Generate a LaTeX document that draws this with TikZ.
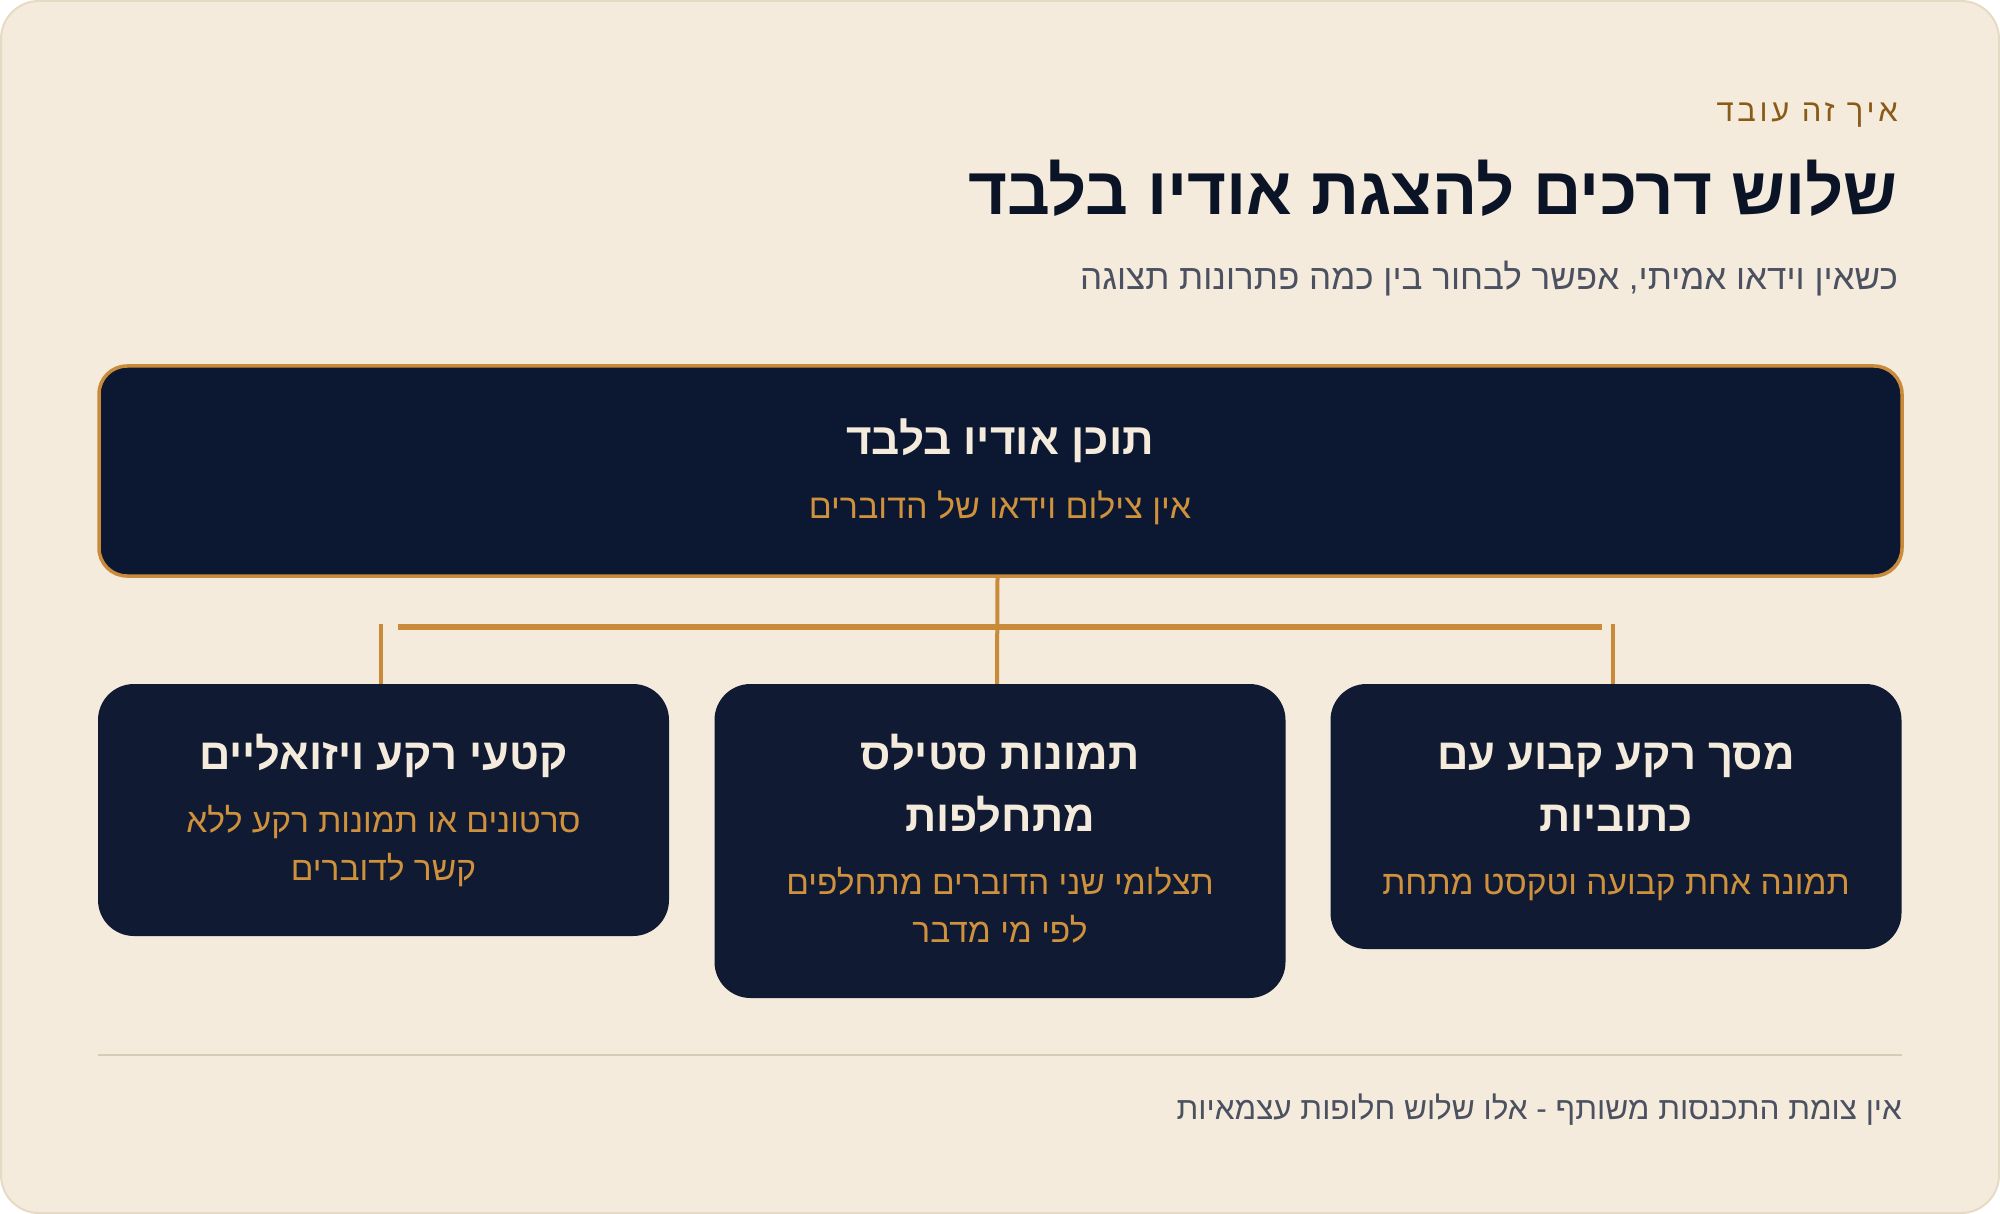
\documentclass[tikz,border=0pt]{standalone}
\usepackage{fontspec}
\setmainfont[Script=Hebrew]{Liberation Sans}
\newfontfamily\heb[Script=Hebrew]{Liberation Sans}
\newfontfamily\hebsp[Script=Hebrew,LetterSpace=12]{Liberation Sans}
\TeXXeTstate=1
\definecolor{bg}{HTML}{F4EBDC}
\definecolor{cardborder}{HTML}{E6DAC4}
\definecolor{navy}{HTML}{0B1426}
\definecolor{topfill}{HTML}{0C1731}
\definecolor{boxfill}{HTML}{101B33}
\definecolor{gold}{HTML}{C98B3A}
\definecolor{goldtext}{HTML}{D0913C}
\definecolor{cream}{HTML}{F4EBDC}
\definecolor{brown}{HTML}{8A5A17}
\definecolor{graytext}{HTML}{4B5161}
\definecolor{divider}{HTML}{D6CBB7}
\tikzset{
  txt/.style={inner sep=0pt, anchor=base},
  topbox/.style={fill=topfill, draw=gold, line width=3.5pt, rounded corners=28pt, inner sep=0pt},
  optbox/.style={fill=boxfill, draw=none, rounded corners=36pt, inner sep=0pt, minimum width=571pt},
  conn/.style={draw=gold, line width=4pt},
  boxtitle/.style={txt, text=cream, font=\heb\bfseries\fontsize{43.5}{50}\selectfont},
  boxsub/.style={txt, text=goldtext, font=\heb\fontsize{33.5}{40}\selectfont},
}
\begin{document}
\begin{tikzpicture}[x=1pt,y=-1pt]
\useasboundingbox (0,0) rectangle (2000,1214);
\fill[bg, draw=cardborder, line width=2pt, rounded corners=38pt] (1,1) rectangle (1999,1213);

% header
\node[txt, anchor=base east, text=brown, font=\hebsp\fontsize{31}{36}\selectfont] (eyebrow) at (1898,122) {\beginR איך זה עובד\endR};
\node[txt, anchor=base east, text=navy, font=\heb\bfseries\fontsize{67}{76}\selectfont] (title) at (1898,215) {\beginR שלוש דרכים להצגת אודיו בלבד\endR};
\node[txt, anchor=base east, text=graytext, font=\heb\fontsize{35}{42}\selectfont] (subtitle) at (1898,290) {\beginR כשאין וידאו אמיתי, אפשר לבחור בין כמה פתרונות תצוגה\endR};

% top box
\node[topbox, minimum width=1803pt, minimum height=210pt] (top) at (1000.5,471) {};
\node[boxtitle, font=\heb\bfseries\fontsize{44}{50}\selectfont] (toptitle) at (1000,454) {\beginR תוכן אודיו בלבד\endR};
\node[boxsub, font=\heb\fontsize{34}{40}\selectfont] (topsub) at (1000,518) {\beginR אין צילום וידאו של הדוברים\endR};

% option boxes
\node[optbox, minimum height=252pt] (left) at (383.5,810) {};
\node[optbox, minimum height=314pt] (mid) at (1000,841) {};
\node[optbox, minimum height=265pt] (right) at (1616,816.5) {};

\node[boxtitle] (lt1) at (383.5,769) {\beginR קטעי רקע ויזואליים\endR};
\node[boxsub] (ls1) at (383.5,832) {\beginR סרטונים או תמונות רקע ללא\endR};
\node[boxsub] (ls2) at (383.5,880) {\beginR קשר לדוברים\endR};

\node[boxtitle] (mt1) at (1000,769) {\beginR תמונות סטילס\endR};
\node[boxtitle] (mt2) at (1000,831) {\beginR מתחלפות\endR};
\node[boxsub] (ms1) at (1000,894) {\beginR תצלומי שני הדוברים מתחלפים\endR};
\node[boxsub] (ms2) at (1000,942) {\beginR לפי מי מדבר\endR};

\node[boxtitle] (rt1) at (1616,769) {\beginR מסך רקע קבוע עם\endR};
\node[boxtitle] (rt2) at (1616,831) {\beginR כתוביות\endR};
\node[boxsub] (rs1) at (1616,894) {\beginR תמונה אחת קבועה וטקסט מתחת\endR};

% connectors
\coordinate (barL) at (398,627);
\coordinate (barR) at (1602,627);
\coordinate (lstub) at (381,624);
\coordinate (rstub) at (1613,624);
\draw[conn] ([xshift=-3pt]top.south) -- ([xshift=-3pt]mid.north);
\draw[conn, line width=6pt] (barL) -- (barR);
\draw[conn] (lstub) -- (lstub |- left.north);
\draw[conn] (rstub) -- (rstub |- right.north);

% footer
\draw[divider, line width=2pt] (98,1055) coordinate (dl) -- (1902,1055) coordinate (dr);
\node[txt, anchor=base east, text=graytext, font=\heb\fontsize{31.5}{36}\selectfont] (footer) at (1902,1119) {\beginR אין צומת התכנסות משותף - אלו שלוש חלופות עצמאיות\endR};
\end{tikzpicture}
\end{document}
